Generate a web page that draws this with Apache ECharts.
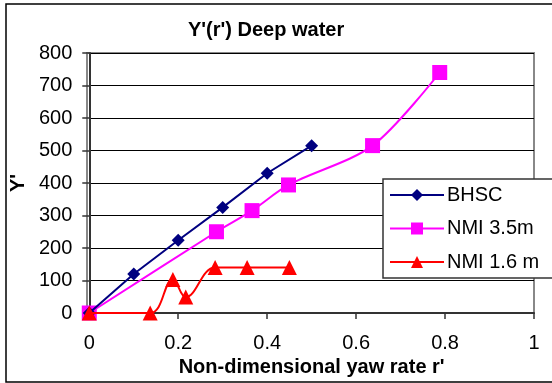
<!DOCTYPE html>
<html><head><meta charset="utf-8">
<script src="https://cdn.jsdelivr.net/npm/echarts@6/dist/echarts.min.js"></script>
<style>html,body{margin:0;padding:0;background:#fff}#c{width:552px;height:383px}</style>
</head><body><div id="c"></div>
<script>
const xTicks = [0, 0.2, 0.4, 0.6, 0.8, 1];
const yTicks = [0, 100, 200, 300, 400, 500, 600, 700, 800];
const bhscX = [0, 0.1, 0.2, 0.3, 0.4, 0.5];
const bhscY = [0, 120, 224, 325, 430, 515];
const nmi35X = [0, 0.286, 0.366, 0.448, 0.637, 0.788];
const nmi35Y = [0, 250, 315, 394, 515, 740];
const nmi16X = [0, 0.137, 0.188, 0.217, 0.283, 0.355, 0.45];
const nmi16Y = [0, 0, 103, 49, 140, 140, 140];
const pairs = (xs, ys) => xs.map((x, i) => [x, ys[i]]);
const FONT = 'Liberation Sans, Arial, sans-serif';
const chart = echarts.init(document.getElementById('c'), null, {renderer: 'canvas'});
chart.setOption({
  animation: false,
  textStyle: {fontFamily: FONT},
  graphic: [
    {type: 'rect', shape: {x: 6, y: 4, width: 600, height: 378}, style: {fill: 'none', stroke: '#000', lineWidth: 1.5}, z: -10},
    {type: 'rect', shape: {x: 87, y: 53, width: 447, height: 260}, style: {fill: 'none', stroke: '#888', lineWidth: 2}, z: -5}
  ],
  title: {text: "Y'(r') Deep water", left: 188, top: 20, padding: 0,
    textStyle: {fontFamily: FONT, fontWeight: 'bold', fontSize: 20, color: '#000'}},
  grid: {left: 87, top: 53, right: 18, bottom: 70, containLabel: false},
  xAxis: {type: 'value', min: 0, max: 1, interval: 0.2,
    name: "Non-dimensional yaw rate r'", nameLocation: 'middle', nameGap: 42,
    nameTextStyle: {fontFamily: FONT, fontWeight: 'bold', fontSize: 20, color: '#000'},
    axisLine: {show: true, onZero: false, lineStyle: {color: '#333', width: 2}},
    axisTick: {show: true, inside: false, length: 6, lineStyle: {color: '#333', width: 1.5}},
    axisLabel: {fontFamily: FONT, fontSize: 20, color: '#000', margin: 20,
      formatter: v => xTicks.includes(+v.toFixed(1)) ? String(+v.toFixed(1)) : ''},
    splitLine: {show: false}},
  yAxis: {type: 'value', min: 0, max: 800, interval: 100,
    name: "Y'", nameLocation: 'middle', nameGap: 53,
    nameTextStyle: {fontFamily: FONT, fontWeight: 'bold', fontSize: 20, color: '#000'},
    axisLine: {show: true, lineStyle: {color: '#333', width: 2}},
    axisTick: {show: true, inside: false, length: 7, lineStyle: {color: '#333', width: 1.5}},
    axisLabel: {fontFamily: FONT, fontSize: 20, color: '#000', margin: 17,
      formatter: v => yTicks.includes(v) ? String(v) : ''},
    splitLine: {show: true, lineStyle: {color: '#000', width: 1}}},
  legend: {orient: 'vertical', left: 383, top: 179, padding: [6, 20, 6, 6],
    backgroundColor: '#fff', borderColor: '#333', borderWidth: 1.5,
    itemWidth: 54, itemHeight: 15, itemGap: 13.5,
    textStyle: {fontFamily: FONT, fontSize: 20, color: '#000', padding: [0, 0, 0, -2]},
    data: ['BHSC', 'NMI 3.5m', 'NMI 1.6 m']},
  series: [
    {name: 'BHSC', type: 'line', data: pairs(bhscX, bhscY), symbol: 'diamond', symbolSize: 13,
      color: '#000080', lineStyle: {width: 2, color: '#000080'}, itemStyle: {color: '#000080'}, z: 3},
    {name: 'NMI 3.5m', type: 'line', data: pairs(nmi35X, nmi35Y), symbol: 'rect', symbolSize: 15, smooth: 0.3,
      color: '#FF00FF', lineStyle: {width: 2, color: '#FF00FF'}, itemStyle: {color: '#FF00FF'}, z: 2},
    {name: 'NMI 1.6 m', type: 'line', data: pairs(nmi16X, nmi16Y), symbol: 'triangle', symbolSize: 15, smooth: 0.4,
      color: '#FF0000', lineStyle: {width: 2, color: '#FF0000'}, itemStyle: {color: '#FF0000'}, z: 4}
  ]
});
</script></body></html>
